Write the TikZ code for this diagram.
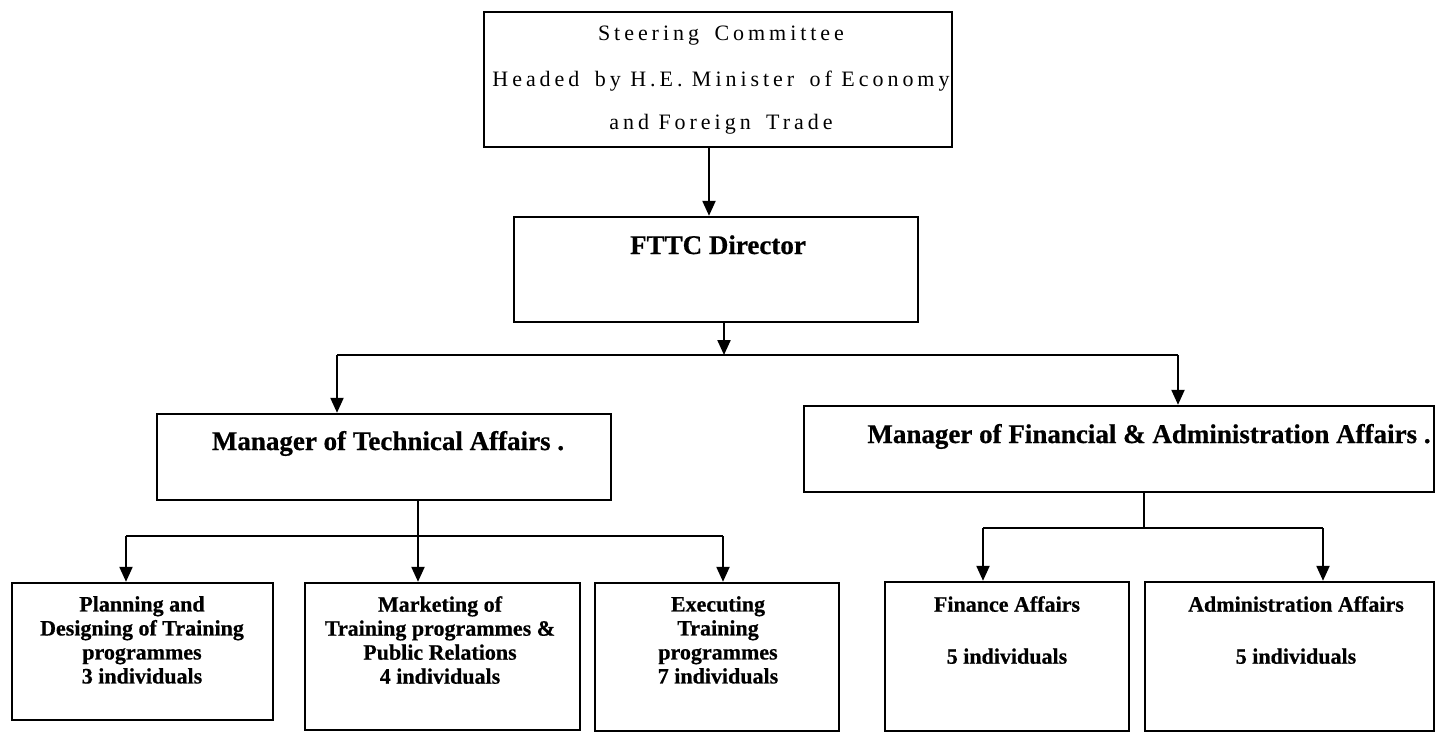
\documentclass[tikz,border=0pt]{standalone}
\usepackage{fontspec}
\setmainfont[BoldFeatures={FakeBold=0.6}]{Liberation Serif}
\newfontfamily\spacedserif[LetterSpace=18]{Liberation Serif}
\usetikzlibrary{arrows.meta}

\begin{document}
\begin{tikzpicture}[x=1pt,y=-1pt,
  box/.style={draw=black, line width=2.4pt, rectangle, inner sep=0pt},
  link/.style={draw=black, line width=2.2pt},
  arr/.style={link, -{Triangle[length=15pt,width=13pt]}},
  steertext/.style={font=\spacedserif\fontsize{22}{22}\selectfont, inner sep=0pt, anchor=base},
  title/.style={font=\bfseries\fontsize{27}{30}\selectfont, inner sep=0pt, anchor=base},
  unit/.style={font=\bfseries\fontsize{22}{24}\selectfont, inner sep=0pt, align=center, anchor=north},
]
\useasboundingbox[fill=white] (0,0) rectangle (1436,732);

% ---- boxes ----
\node[box, minimum width=468pt, minimum height=135pt] (steer) at (718,79.5) {};
\node[box, minimum width=404pt, minimum height=105pt] (fttc)  at (716,269.5) {};
\node[box, minimum width=454pt, minimum height=86pt]  (tech)  at (384,457) {};
\node[box, minimum width=630pt, minimum height=86pt]  (fin)   at (1119,449) {};
\node[box, minimum width=261pt, minimum height=137pt] (plan)  at (142.5,651.5) {};
\node[box, minimum width=275pt, minimum height=147pt] (mkt)   at (442.5,656.5) {};
\node[box, minimum width=244pt, minimum height=148pt] (exe)   at (717,657) {};
\node[box, minimum width=244pt, minimum height=149pt] (finc)  at (1007,656.5) {};
\node[box, minimum width=289pt, minimum height=149pt] (adm)   at (1289.5,656.5) {};

% ---- texts ----
\node[steertext] (steer1) at (721,40)  {Steering\hspace{6pt} Committee};
\node[steertext] (steer2) at (721,86)  {Headed\hspace{6pt} by H.E. Minister\hspace{6pt} of Economy};
\node[steertext] (steer3) at (721,129) {and Foreign\hspace{6pt} Trade};

\node[title] (fttct) at (718,254) {FTTC Director};
\node[title] (techt) at (388,450) {Manager of Technical Affairs .};
\node[title] (fint)  at (1149,443) {Manager of Financial \& Administration Affairs .};

\node[unit] (plant) at (142,596) {Planning and\\Designing of Training\\programmes\\3 individuals};
\node[unit] (mktt)  at (440,596) {Marketing of\\Training programmes \&\\Public Relations\\4 individuals};
\node[unit] (exet)  at (718,596) {Executing\\Training\\programmes\\7 individuals};
\node[unit] (finct) at (1007,596) {Finance Affairs\\[28pt]5 individuals};
\node[unit] (admt)  at (1296,596) {Administration Affairs\\[28pt]5 individuals};

% ---- connectors ----
\coordinate (c1) at (709,0);
\draw[arr] (steer.south -| c1) -- (fttc.north -| c1);

\coordinate (j0) at (724,355);
\coordinate (jl) at (337,355);
\coordinate (jr) at (1178,355);
\draw[arr] (fttc.south -| j0) -- (j0);
\draw[link] (jl) -- (jr);
\draw[arr] (jl) -- (jl |- tech.north);
\draw[arr] (jr) -- (jr |- fin.north);

\coordinate (t0) at (418,536);
\coordinate (tl) at (126,536);
\coordinate (tr) at (723,536);
\draw[link] (tech.south -| t0) -- (t0);
\draw[link] (tl) -- (tr);
\draw[arr] (tl) -- (tl |- plan.north);
\draw[arr] (t0) -- (t0 |- mkt.north);
\draw[arr] (tr) -- (tr |- exe.north);

\coordinate (f0) at (1144,528);
\coordinate (fl) at (983,528);
\coordinate (fr) at (1323,528);
\draw[link] (fin.south -| f0) -- (f0);
\draw[link] (fl) -- (fr);
\draw[arr] (fl) -- (fl |- finc.north);
\draw[arr] (fr) -- (fr |- adm.north);
\end{tikzpicture}
\end{document}
